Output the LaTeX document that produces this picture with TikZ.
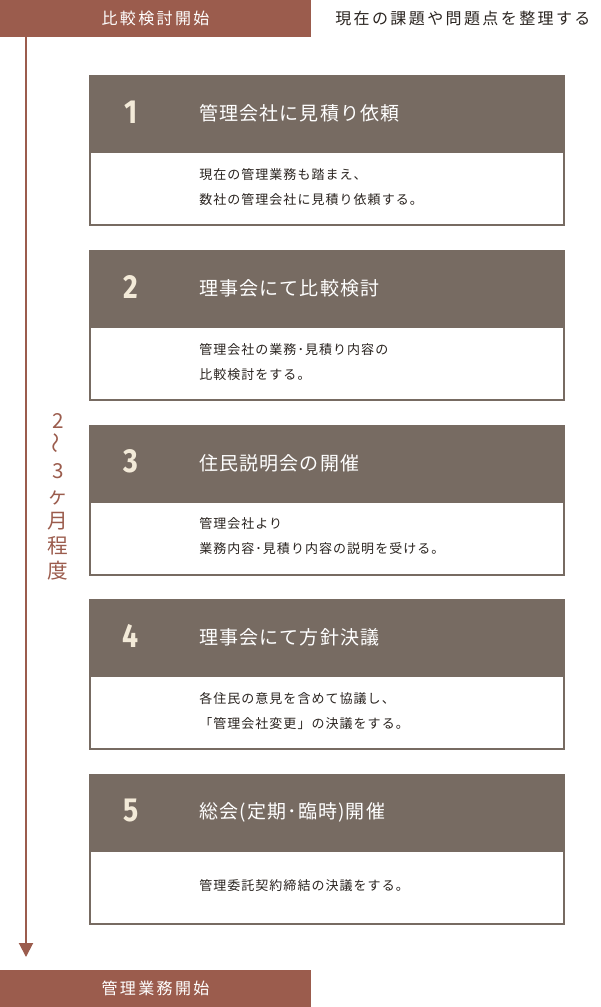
\documentclass[tikz,border=0pt]{standalone}
\usepackage{fontspec}
\usepackage{graphicx}
\usepackage{tikz}
\usetikzlibrary{arrows.meta, positioning}
\newfontfamily\jpfont{Noto Sans CJK JP}
\newfontfamily\jpnote{Noto Sans CJK JP}[LetterSpace=8]
\newfontfamily\jptitle{Noto Sans CJK JP}[LetterSpace=6]
\newfontfamily\jpwide{Noto Sans CJK JP}[LetterSpace=15]
\newfontfamily\numfont{Fira Sans}[FakeStretch=0.85]
\definecolor{brick}{HTML}{9B5C4D}
\definecolor{taupe}{HTML}{776B62}
\definecolor{cream}{HTML}{F3EAD8}
\definecolor{ink}{HTML}{2A2420}

\begin{document}
\begin{tikzpicture}[x=0.75pt,y=-0.75pt,
    band/.style={fill=brick, text=white, minimum width=233.25pt, minimum height=27.75pt, inner sep=0pt, font=\jpwide\fontsize{12pt}{14pt}\selectfont},
    headbox/.style={fill=taupe, minimum width=357pt, minimum height=57.75pt, inner sep=0pt},
    bodybox/.style={draw=taupe, line width=1.5pt, fill=white, minimum width=355.5pt, minimum height=54.75pt, inner sep=0pt},
    stepnum/.style={text=cream, font=\numfont\bfseries\fontsize{25pt}{28pt}\selectfont},
    steptitle/.style={anchor=west, inner sep=0pt, text=white, font=\jptitle\fontsize{14.25pt}{16pt}\selectfont},
    stepnote/.style={anchor=west, inner sep=0pt, align=left, text=ink, font=\jpnote\fontsize{9.75pt}{18.75pt}\selectfont},
    timeline/.style={draw=brick, line width=1.5pt, -{Triangle[width=10.5pt,length=10.5pt]}}]
    \useasboundingbox (0,0) rectangle (600,1007);
    % start / end bands
    \node[band] (start) at (155.5,18.5) {比較検討開始};
    \node[anchor=west, inner sep=0pt, text=ink, font=\jpwide\fontsize{12pt}{14pt}\selectfont] (issue) at (335,18.5) {現在の課題や問題点を整理する};
    \node[band] (finish) at (155.5,988) {管理業務開始};
    \coordinate (lineend) at (26,957);
    \draw[timeline] (start.south -| lineend) -- (lineend);
    \node[align=center, inner sep=0pt, text=brick, font=\jpfont\fontsize{15.5pt}{18.75pt}\selectfont] (span) at (58,497) {2\\\rotatebox{90}{～}\\3\\ヶ\\月\\程\\度};
    % step 1
    \node[headbox] (h1) at (327,113.5) {};
    \node[bodybox, below=-0.75pt of h1] (b1) {};
    \node[stepnum] (n1) at (131,112) {1};
    \node[steptitle] (t1) at (199,113.5) {管理会社に見積り依頼};
    \node[stepnote] (d1) at (199,187) {現在の管理業務も踏まえ、\\数社の管理会社に見積り依頼する。};
    % step 2
    \node[headbox] (h2) at (327,288.5) {};
    \node[bodybox, below=-0.75pt of h2] (b2) {};
    \node[stepnum] (n2) at (131,287) {2};
    \node[steptitle] (t2) at (199,288.5) {理事会にて比較検討};
    \node[stepnote] (d2) at (199,362) {管理会社の業務･見積り内容の\\比較検討をする。};
    % step 3
    \node[headbox] (h3) at (327,463) {};
    \node[bodybox, below=-0.75pt of h3] (b3) {};
    \node[stepnum] (n3) at (131,461.5) {3};
    \node[steptitle] (t3) at (199,463) {住民説明会の開催};
    \node[stepnote] (d3) at (199,536.5) {管理会社より\\業務内容･見積り内容の説明を受ける。};
    % step 4
    \node[headbox] (h4) at (327,637.5) {};
    \node[bodybox, below=-0.75pt of h4] (b4) {};
    \node[stepnum] (n4) at (131,636) {4};
    \node[steptitle] (t4) at (199,637.5) {理事会にて方針決議};
    \node[stepnote] (d4) at (199,711) {各住民の意見を含めて協議し、\\「管理会社変更」の決議をする。};
    % step 5
    \node[headbox] (h5) at (327,812.5) {};
    \node[bodybox, below=-0.75pt of h5] (b5) {};
    \node[stepnum] (n5) at (131,811) {5};
    \node[steptitle] (t5) at (199,812.5) {総会(定期･臨時)開催};
    \node[stepnote] (d5) at (199,886) {管理委託契約締結の決議をする。};
\end{tikzpicture}
\end{document}
